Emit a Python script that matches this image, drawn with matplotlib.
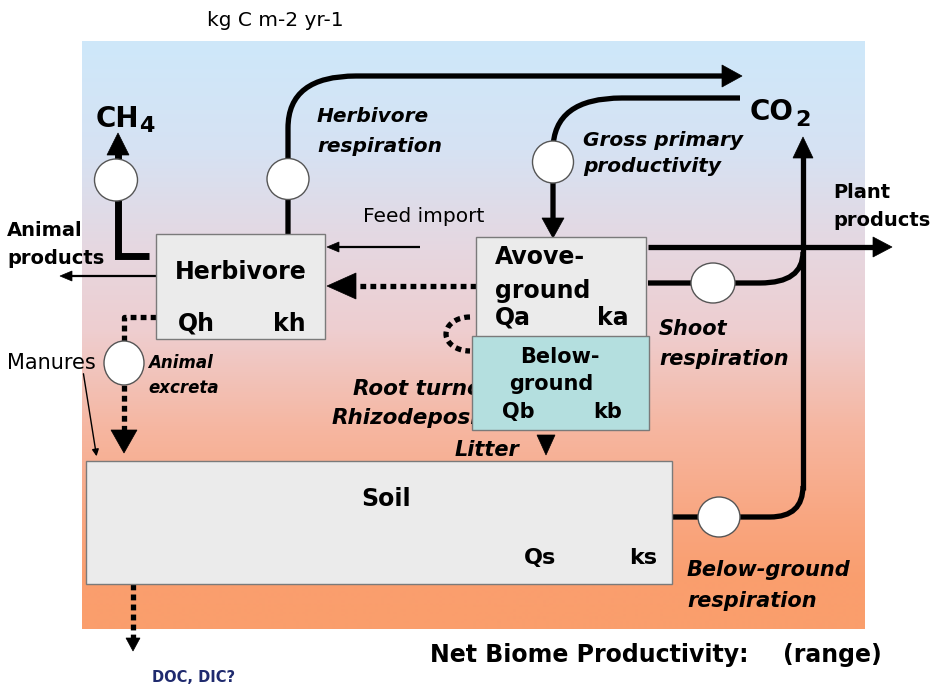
import numpy as np
import matplotlib
matplotlib.use("Agg")
import matplotlib.pyplot as plt
from matplotlib.patches import Rectangle, Ellipse, Polygon, PathPatch
from matplotlib.path import Path

FONT = "DejaVu Sans"

# ---- diagram content -------------------------------------------------
unit_label = "kg C m-2 yr-1"
pools = ["Herbivore", "Avove-\nground", "Below-\nground", "Soil"]
pool_params = [("Qh", "kh"), ("Qa", "ka"), ("Qb", "kb"), ("Qs", "ks")]
flux_labels = ["Herbivore\nrespiration", "Gross primary\nproductivity",
               "Shoot\nrespiration", "Below-ground\nrespiration",
               "Animal\nexcreta", "Root turnover\nRhizodeposition", "Litter"]
outputs = ["Animal\nproducts", "Plant\nproducts", "Feed import", "Manures", "DOC, DIC?"]
footer = ["Net Biome Productivity:", "(range)"]

# gradient stops (pixel row -> rgb)
grad_y = [41, 150, 250, 330, 430, 520, 580, 629]
grad_rgb = [(206, 232, 250), (214, 226, 243), (230, 215, 224), (238, 206, 208),
            (246, 182, 160), (249, 166, 128), (250, 158, 110), (250, 158, 108)]

fig = plt.figure(figsize=(9.39, 6.89), dpi=100)
ax = fig.add_axes([0, 0, 1, 1])
ax.set_xlim(0, 939)
ax.set_ylim(689, 0)
ax.axis("off")

rows = np.arange(41, 630)
g = np.array(grad_rgb, float) / 255.0
img = np.stack([np.interp(rows, grad_y, g[:, i]) for i in range(3)], axis=-1)[:, None, :]
ax.imshow(img, extent=[82, 865, 629, 41], aspect="auto", interpolation="bilinear", zorder=0)

LW = 3.8
K = "black"

def path(pts, codes, lw=LW, ls="-", z=2):
    p = PathPatch(Path(pts, codes), fill=False, ec=K, lw=lw, ls=ls, zorder=z,
                  capstyle="butt", joinstyle="miter")
    ax.add_patch(p)

def line(xs, ys, lw=LW, ls="-", z=2):
    ax.plot(xs, ys, color=K, lw=lw, ls=ls, zorder=z, solid_capstyle="butt",
            dash_capstyle="butt", solid_joinstyle="miter")

def head(tip, direction, length, half, z=3):
    x, y = tip
    dx, dy = direction
    bx, by = x - dx * length, y - dy * length
    px, py = -dy, dx
    ax.add_patch(Polygon([(x, y), (bx + px * half, by + py * half), (bx - px * half, by - py * half)],
                         closed=True, fc=K, ec=K, lw=0.5, zorder=z))

def circle(cx, cy, w=42, h=41):
    ax.add_patch(Ellipse((cx, cy), w, h, fc="white", ec="#555555", lw=1.0, zorder=4))

M, L, C3 = Path.MOVETO, Path.LINETO, Path.CURVE3
DOT = (0, (1.1, 0.8))

# Herbivore respiration -> CO2
path([(288, 234), (288, 128), (288, 76), (356, 76), (724, 76)], [M, L, C3, C3, L])
head((742, 76), (1, 0), 20, 11)
circle(288, 179)

# CH4
line([149, 118, 118], [256, 256, 150], lw=5)
head((118, 133), (0, -1), 22, 11)
circle(116, 180, 43, 42)

# GPP
path([(740, 98), (622, 98), (553, 98), (553, 150), (553, 222)], [M, L, C3, C3, L])
head((553, 238), (0, 1), 20, 11)
circle(553, 162, 41, 42)

# Plant products
line([648, 876], [247, 247])
head((892, 247), (1, 0), 19, 10)

# Shoot respiration
path([(648, 283), (760, 283), (803, 283), (803, 252)], [M, L, C3, C3])
circle(713, 283, 44, 40)

# vertical to CO2
line([803, 803], [490, 156])
head((803, 137), (0, -1), 21, 10)

# Below-ground respiration
path([(672, 517), (770, 517), (803, 517), (803, 486)], [M, L, C3, C3])
circle(719, 517, 42, 40)

# Aboveground -> Herbivore (dotted)
line([476, 356], [286, 286], lw=LW, ls=DOT)
head((327, 286), (-1, 0), 29, 13)

# Feed import
line([420, 338], [247, 247], lw=1.6)
head((327, 247), (-1, 0), 12, 5)

# Animal products
line([156, 72], [276, 276], lw=1.6)
head((60, 276), (-1, 0), 12, 5)

# Animal excreta (dotted)
line([156, 124, 124], [317, 317, 430], lw=LW, ls=DOT)
head((124, 453), (0, 1), 23, 13)
circle(124, 363, 40, 44)

# Manures
ax.annotate("", xy=(97, 459), xytext=(83, 371),
            arrowprops=dict(arrowstyle="-|>", color=K, lw=1.0, mutation_scale=10), zorder=3)

# Litter
head((546, 455), (0, 1), 20, 9)

# Root turnover loop (dotted)
t = np.linspace(np.pi / 2, 3 * np.pi / 2, 30)
line(470 + 24 * np.cos(t), 334 - 17 * np.sin(t), lw=LW, ls=DOT)

# DOC
line([133, 133], [584, 638], lw=LW, ls=DOT)
head((133, 651), (0, 1), 13, 7)

# ---- boxes ----
def box(x0, y0, x1, y1, fc, z=3):
    ax.add_patch(Rectangle((x0, y0), x1 - x0, y1 - y0, fc=fc, ec="#7a7a7a", lw=1.0, zorder=z))

GREY = "#ebebeb"
box(156, 234, 325, 339, GREY)
box(476, 237, 646, 345, GREY)
box(472, 336, 649, 430, "#b4dfdf", z=7)
box(86, 461, 672, 584, GREY)

def txt(x, y, s, size, weight="bold", style="normal", ha="left", color=K, z=8):
    return ax.text(x, y, s, fontsize=size, fontweight=weight, fontstyle=style, ha=ha,
                   va="center", color=color, family=FONT, zorder=z)

txt(207, 20, unit_label, 14.5, weight="normal")

txt(96, 119, "CH", 20)
txt(139, 126, "4", 16)
txt(750, 112, "CO", 20)
txt(795, 120, "2", 16)

txt(241, 272, pools[0], 17, ha="center")
txt(178, 324, pool_params[0][0], 17)
txt(273, 324, pool_params[0][1], 17)

txt(495, 257, pools[1].split("\n")[0], 17)
txt(495, 291, pools[1].split("\n")[1], 17)
txt(495, 318, pool_params[1][0], 17)
txt(597, 318, pool_params[1][1], 17)

txt(560, 357, pools[2].split("\n")[0], 15, ha="center", z=9)
txt(551, 384, pools[2].split("\n")[1], 15, ha="center", z=9)
txt(502, 412, pool_params[2][0], 15, z=9)
txt(593, 412, pool_params[2][1], 15, z=9)

txt(386, 499, pools[3], 17, ha="center")
txt(524, 558, pool_params[3][0], 16)
txt(629, 558, pool_params[3][1], 16)

fl = [l.split("\n") for l in flux_labels]
txt(317, 117, fl[0][0], 14.5, style="italic")
txt(317, 147, fl[0][1], 14.5, style="italic")
txt(583, 140, fl[1][0], 14.5, style="italic")
txt(583, 167, fl[1][1], 14.5, style="italic")
txt(659, 329, fl[2][0], 15, style="italic")
txt(659, 359, fl[2][1], 15, style="italic")
txt(687, 570, fl[3][0], 15, style="italic")
txt(687, 601, fl[3][1], 15, style="italic")
txt(148, 363, fl[4][0], 12, style="italic")
txt(148, 388, fl[4][1], 12, style="italic")
# root turnover text is hidden behind the below-ground box in the reference
clip = Rectangle((0, 0), 471, 689, transform=ax.transData)
for yy, xx, s in [(389, 353, fl[5][0]), (418, 332, fl[5][1])]:
    tt = txt(xx, yy, s, 15.5, style="italic", z=5)
    tt.set_clip_path(clip)
txt(455, 450, flux_labels[6], 15, style="italic")

op = [l.split("\n") for l in outputs]
txt(7, 230, op[0][0], 14)
txt(7, 258, op[0][1], 14)
txt(833, 193, op[1][0], 14)
txt(833, 220, op[1][1], 14)
txt(363, 217, outputs[2], 14.5, weight="normal")
txt(7, 363, outputs[3], 15, weight="normal")
txt(152, 677, outputs[4], 10.5, color="#1f2a6e")

txt(430, 655, footer[0], 17)
txt(783, 655, footer[1], 17)

fig.savefig("out.png", dpi=100)
